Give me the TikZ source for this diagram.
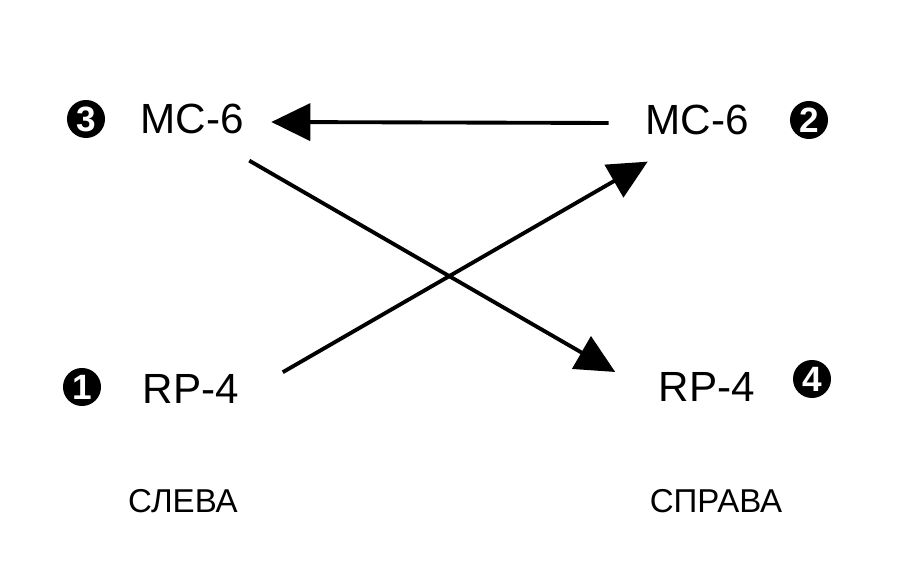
\documentclass[tikz,border=0pt]{standalone}
\usepackage{fontspec}
\setmainfont{Liberation Sans}
\usetikzlibrary{arrows.meta}

\begin{document}
\begin{tikzpicture}[x=0.01cm, y=-0.01cm,
        devtxt/.style={inner sep=0, font=\fontsize{12}{14}\selectfont},
        sidetxt/.style={inner sep=0, font=\fontsize{9.4}{11}\selectfont},
        numdot/.style={circle, fill=black, text=white, inner sep=0,
            minimum size=0.38cm, font=\fontsize{10}{11}\selectfont\bfseries},
        flow/.style={-{Triangle[length=0.39cm, width=0.37cm]}, line width=1.1pt}]
            \useasboundingbox (0, 0) rectangle (903, 586);

            \node[numdot] (n3) at (86, 119) {3};
            \node[devtxt] (mcL) at (192, 119) {MC-6};
            \node[numdot] (n1) at (82, 387) {1};
            \node[devtxt] (rpL) at (191, 389) {RP-4};

            \node[devtxt] (mcR) at (697, 120) {MC-6};
            \node[numdot] (n2) at (809, 120) {2};
            \node[devtxt] (rpR) at (707, 387) {RP-4};
            \node[numdot] (n4) at (812, 379) {4};

            \node[sidetxt] (left) at (183, 501) {СЛЕВА};
            \node[sidetxt] (right) at (716, 501) {СПРАВА};

            \draw[flow] ([shift={(-36, 3)}]mcR.west) -- ([shift={(27, 3)}]mcL.east);
            \draw[flow] ([shift={(43, -32)}]rpL.south east) -- ([shift={(3, 26)}]mcR.south west);
            \draw[flow] ([shift={(5, 26)}]mcL.south east) -- ([shift={(-43, -15)}]rpR.west);
        \end{tikzpicture}
\end{document}
